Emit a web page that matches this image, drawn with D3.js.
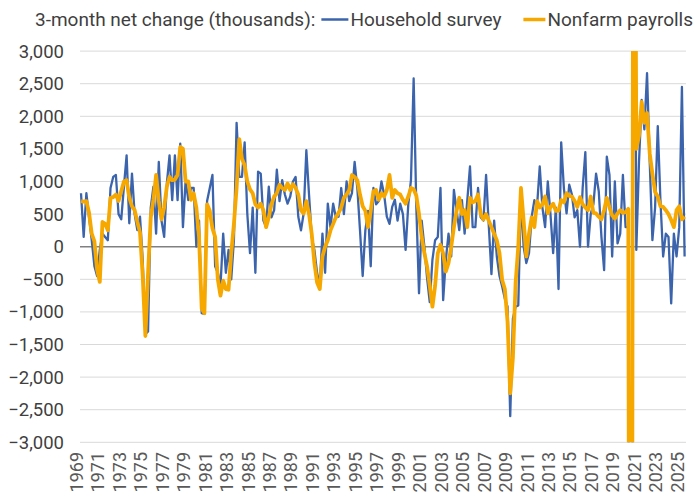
<!DOCTYPE html>
<html>
<head>
<meta charset="utf-8">
<script src="https://cdn.jsdelivr.net/npm/d3@7"></script>
<style>
  body { margin: 0; background: #fff; }
  text { font-family: Roboto, "Noto Sans", sans-serif; }
</style>
</head>
<body>
<div id="chart"></div>
<script>
// Quarterly series, first point at 1969 Q1
const startYear = 1969;
const step = 0.25;

// 3-month net change, thousands
const household = [
  820, 150, 820, 450,      // 1969
  100, -300, -450, -50,    // 1970
  200, 150, 100, 900,      // 1971
  1070, 1100, 500, 420,    // 1972
  920, 1400, 360, 1120,    // 1973
  500, 255, 460, -200,     // 1974
  -1340, -1300, 600, 920,  // 1975
  200, 1300, 400, 150,     // 1976
  970, 1400, 715, 1400,    // 1977
  715, 1580, 300, 1020,    // 1978
  715, 900, 900, 0,        // 1979
  400, -1020, -1030, 700,  // 1980
  900, 1100, -300, -400,   // 1981
  -600, 200, -400, -50,    // 1982
  -500, 100, 1900, 1070,   // 1983
  1070, 1600, 500, -100,   // 1984
  600, -400, 1150, 1120,   // 1985
  400, 300, 920, 450,      // 1986
  560, 1180, 700, 1020,    // 1987
  800, 660, 770, 1000,     // 1988
  1070, 460, 250, 510,     // 1989
  1480, 800, 150, -50,     // 1990
  -400, -600, 200, -400,   // 1991
  660, 300, 660, 450,      // 1992
  460, 900, 500, 1000,     // 1993
  700, 820, 1300, 900,     // 1994
  255, -450, 255, 550,     // 1995
  -300, 900, 650, 700,     // 1996
  1000, 800, 460, 350,     // 1997
  610, 720, 400, 660,      // 1998
  500, -50, 650, 1020,     // 1999
  2580, 600, -715, 400,    // 2000
  0, -480, -850, -200,     // 2001
  100, 150, 900, -820,     // 2002
  -200, 200, -150, 870,    // 2003
  560, 255, 715, 200,      // 2004
  715, 1230, 300, 300,     // 2005
  900, 450, 400, 1100,     // 2006
  330, -420, 400, -150,    // 2007
  -450, -610, -800, -920,  // 2008
  -2600, -1100, -920, -900, // 2009
  770, 0, -250, -100,      // 2010
  460, 715, 620, 1230,     // 2011
  600, 300, 1000, 500,     // 2012
  -100, 600, -650, 1600,   // 2013
  900, 510, 950, 800,      // 2014
  450, 560, 0, 900,        // 2015
  1450, 0, 500, 650,       // 2016
  1120, 850, 150, -360,    // 2017
  1380, 1100, -150, 1000,  // 2018
  50, 200, 1100, 300,      // 2019
  300, -22000, 10000, -50, // 2020
  1300, 2250, 1800, 2660,  // 2021
  1300, 100, 600, 1850,    // 2022
  700, -150, 200, 150,     // 2023
  -870, 200, -150, 300,    // 2024
  2450, -150               // 2025
];

const payrolls = [
  700, 690, 700, 520,      // 1969
  200, 80, -350, -540,     // 1970
  380, 350, 250, 750,      // 1971
  760, 800, 700, 850,      // 1972
  1000, 1020, 750, 620,    // 1973
  560, 380, 220, -450,     // 1974
  -1370, -400, 450, 720,   // 1975
  1100, 700, 420, 600,     // 1976
  920, 1070, 1020, 1030,   // 1977
  1100, 1530, 1500, 1000,  // 1978
  1000, 720, 820, 600,     // 1979
  150, -950, -1020, 650,   // 1980
  550, 280, 150, -500,     // 1981
  -750, -520, -650, -660,  // 1982
  -100, 350, 900, 1650,    // 1983
  1350, 1250, 1000, 880,   // 1984
  820, 650, 600, 660,      // 1985
  560, 300, 450, 650,      // 1986
  770, 820, 950, 900,      // 1987
  870, 970, 870, 960,      // 1988
  900, 800, 560, 510,      // 1989
  700, 500, 200, -250,     // 1990
  -550, -650, -150, 0,     // 1991
  100, 250, 350, 450,      // 1992
  520, 600, 750, 800,      // 1993
  870, 1100, 1070, 1020,   // 1994
  800, 620, 550, 300,      // 1995
  550, 850, 870, 720,      // 1996
  820, 770, 870, 1100,     // 1997
  750, 870, 820, 800,      // 1998
  720, 660, 770, 900,      // 1999
  880, 780, 500, 150,      // 2000
  -100, -300, -600, -920,  // 2001
  -600, -100, 30, -100,    // 2002
  -380, -250, 0, 300,      // 2003
  550, 750, 500, 560,      // 2004
  300, 750, 680, 700,      // 2005
  800, 500, 420, 500,      // 2006
  400, 300, 200, 100,      // 2007
  -100, -510, -650, -1150, // 2008
  -2250, -1700, -560, 0,   // 2009
  900, 400, -150, 200,     // 2010
  450, 300, 700, 600,      // 2011
  650, 770, 510, 610,      // 2012
  660, 550, 550, 715,      // 2013
  680, 820, 780, 770,      // 2014
  700, 610, 760, 650,      // 2015
  600, 560, 770, 520,      // 2016
  510, 460, 420, 560,      // 2017
  750, 600, 480, 430,      // 2018
  510, 560, 520, 530,      // 2019
  580, -20000, 12000, 1500, // 2020
  1700, 2220, 1900, 2050,  // 2021
  1430, 1120, 840, 770,    // 2022
  620, 610, 560, 500,      // 2023
  410, 300, 560, 620,      // 2024
  420, 460                 // 2025
];

const yTicks = d3.range(-3000, 3001, 500);
const yearTicks = d3.range(1969, 2026, 2);

const width = 700, height = 504;
const blue = "#3b64ad", orange = "#f6a800";

const svg = d3.select("#chart").append("svg")
  .attr("width", width)
  .attr("height", height);

const x = d3.scaleLinear().domain([1969, 2025.25]).range([81, 684.6]);
const y = d3.scaleLinear().domain([-3000, 3000]).range([442.3, 51.1]);

// grid
svg.append("g").selectAll("line").data(yTicks).join("line")
  .attr("x1", 80).attr("x2", 686)
  .attr("y1", d => y(d)).attr("y2", d => y(d))
  .attr("stroke", d => d === 0 ? "#808080" : "#d9d9d9")
  .attr("stroke-width", d => d === 0 ? 1.6 : 1);

// y labels
svg.append("g").selectAll("text").data(yTicks).join("text")
  .attr("x", 64).attr("y", d => y(d))
  .attr("dy", "0.35em")
  .attr("text-anchor", "end")
  .attr("font-size", 18.5)
  .attr("fill", "#3f3f3f")
  .text(d => d3.format(",")(d));

// x labels (rotated)
svg.append("g").selectAll("text").data(yearTicks).join("text")
  .attr("transform", d => `translate(${x(d) - 4.5},452) rotate(-90)`)
  .attr("dy", "0.35em")
  .attr("text-anchor", "end")
  .attr("font-size", 18)
  .attr("fill", "#595959")
  .text(d => d);

// clip to the axis range
svg.append("clipPath").attr("id", "plot")
  .append("rect").attr("x", 0).attr("y", y(3000)).attr("width", width).attr("height", y(-3000) - y(3000));

const line = d3.line()
  .x((d, i) => x(startYear + i * step))
  .y(d => y(d));

const g = svg.append("g").attr("clip-path", "url(#plot)");
g.append("path").datum(household)
  .attr("d", line).attr("fill", "none")
  .attr("stroke", blue).attr("stroke-width", 2.3)
  .attr("stroke-linejoin", "round");
g.append("path").datum(payrolls)
  .attr("d", line).attr("fill", "none")
  .attr("stroke", orange).attr("stroke-width", 3.8)
  .attr("stroke-linejoin", "round");

// title + legend
const head = svg.append("g").attr("font-size", 19).attr("fill", "#3f3f3f");
let cx = 35;
const t1 = head.append("text").attr("x", cx).attr("y", 26).text("3-month net change (thousands):");
cx += t1.node().getComputedTextLength() + 6;
head.append("line").attr("x1", cx).attr("x2", cx + 27).attr("y1", 19.5).attr("y2", 19.5)
  .attr("stroke", blue).attr("stroke-width", 2.5);
cx += 29;
const t2 = head.append("text").attr("x", cx).attr("y", 26).text("Household survey");
cx += t2.node().getComputedTextLength() + 22;
head.append("line").attr("x1", cx).attr("x2", cx + 22).attr("y1", 19.5).attr("y2", 19.5)
  .attr("stroke", orange).attr("stroke-width", 3.5);
cx += 24;
head.append("text").attr("x", cx).attr("y", 26).text("Nonfarm payrolls");
</script>
</body>
</html>
